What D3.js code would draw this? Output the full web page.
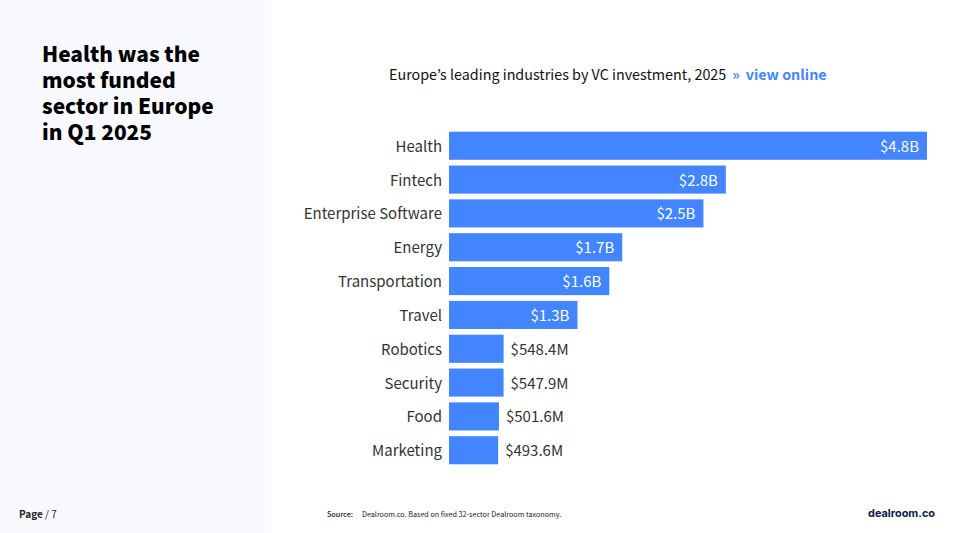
<!DOCTYPE html>
<html>
<head>
<meta charset="utf-8">
<script src="https://cdn.jsdelivr.net/npm/d3@7"></script>
<style>
  html, body { margin: 0; padding: 0; background: #fff; }
  text { font-family: "Noto Sans CJK KR", "Noto Sans", sans-serif; }
</style>
</head>
<body>
<svg id="chart" width="953" height="533"></svg>
<script>
const sectors = ["Health", "Fintech", "Enterprise Software", "Energy", "Transportation", "Travel", "Robotics", "Security", "Food", "Marketing"];
const amounts = [4800, 2780, 2555, 1740, 1610, 1290, 548.4, 547.9, 501.6, 493.6];
const amountLabels = ["$4.8B", "$2.8B", "$2.5B", "$1.7B", "$1.6B", "$1.3B", "$548.4M", "$547.9M", "$501.6M", "$493.6M"];
const headline = ["Health was the", "most funded", "sector in Europe", "in Q1 2025"];

const svg = d3.select("#chart");

// left panel
svg.append("rect").attr("width", 271).attr("height", 533).attr("fill", "#f8faff");

svg.append("g").selectAll("text").data(headline).join("text")
  .attr("x", 42).attr("y", (d, i) => 62 + i * 26)
  .attr("font-size", 20.9).attr("font-weight", 900).attr("fill", "#000")
  .text(d => d);

// chart title
const title = svg.append("text").attr("x", 389).attr("y", 80).attr("font-size", 14.33).attr("fill", "#111");
title.append("tspan").text("Europe’s leading industries by VC investment, 2025");
title.append("tspan").attr("dx", 6).attr("fill", "#4285ff").attr("font-weight", 700).text("»");
title.append("tspan").attr("dx", 6).attr("fill", "#4285ff").attr("font-weight", 700).text("view online");

const x = d3.scaleLinear().domain([0, 4800]).range([449, 927]);
const y = d3.scaleBand().domain(sectors).range([129, 467]).paddingInner(0.17).paddingOuter(0.08);

const row = svg.append("g").selectAll("g").data(sectors).join("g");

row.append("rect")
  .attr("x", x(0))
  .attr("y", d => y(d))
  .attr("width", (d, i) => x(amounts[i]) - x(0))
  .attr("height", y.bandwidth())
  .attr("fill", "#4285ff");

row.append("text")
  .attr("x", 442).attr("y", d => y(d) + y.bandwidth() / 2 + 6)
  .attr("text-anchor", "end").attr("font-size", 15).attr("fill", "#333")
  .text(d => d);

// big bars get the label inside, small ones outside
row.append("text")
  .attr("x", (d, i) => amounts[i] > 1000 ? x(amounts[i]) - 8 : x(amounts[i]) + 7)
  .attr("y", d => y(d) + y.bandwidth() / 2 + 6)
  .attr("text-anchor", (d, i) => amounts[i] > 1000 ? "end" : "start")
  .attr("font-size", 15)
  .attr("fill", (d, i) => amounts[i] > 1000 ? "#fff" : "#333")
  .text((d, i) => amountLabels[i]);

// footer
const page = svg.append("text").attr("x", 19).attr("y", 518).attr("font-size", 10).attr("fill", "#222");
page.append("tspan").attr("font-weight", 700).text("Page");
page.append("tspan").text(" / 7");

svg.append("text").attr("x", 327).attr("y", 517).attr("font-size", 7.2).attr("font-weight", 500).attr("fill", "#222").text("Source:");
svg.append("text").attr("x", 362).attr("y", 517).attr("font-size", 7.2).attr("fill", "#222").text("Dealroom.co. Based on fixed 32-sector Dealroom taxonomy.");
svg.append("text").attr("x", 935).attr("y", 517).style("font-family", "Inter, sans-serif").attr("text-anchor", "end").attr("font-size", 10.9).attr("font-weight", 700).attr("fill", "#0b1a4a").text("dealroom.co");
</script>
</body>
</html>
